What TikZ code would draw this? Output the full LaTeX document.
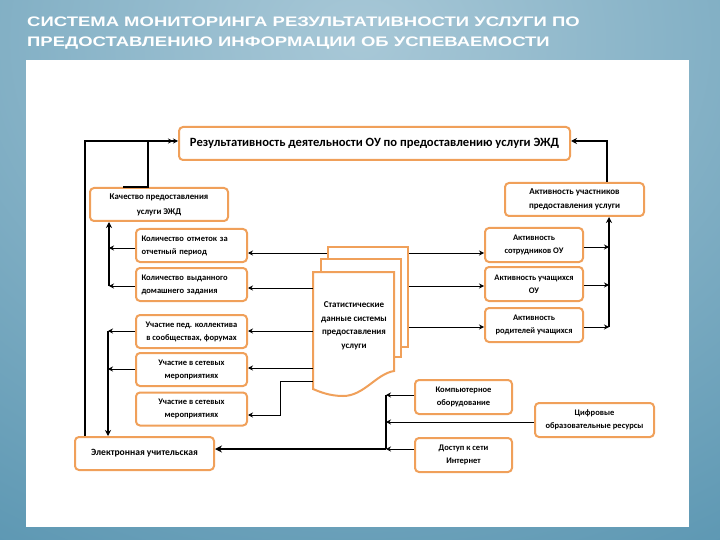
\documentclass[tikz,border=0pt]{standalone}
\usepackage{fontspec}
\setmainfont{Carlito}
\newfontfamily\titlefont{Liberation Sans}
\usetikzlibrary{arrows.meta}
\definecolor{bgA}{HTML}{A8C8D7}
\definecolor{bgB}{HTML}{5995B1}
\definecolor{orng}{HTML}{F0A05A}
\tikzset{
  box/.style={draw=orng, line width=2pt, rounded corners=4pt, fill=white, inner sep=2pt,
    font=\fontsize{8.5}{13}\selectfont\bfseries, align=center},
  page/.style={draw=orng, line width=2pt, fill=white, inner sep=0pt},
  arr/.style={line width=1pt, -{Stealth[length=5pt,width=5pt]}},
  bus/.style={line width=2pt},
  busarr/.style={line width=2pt, -{Stealth[length=6pt,width=6pt]}},
}
\begin{document}
\begin{tikzpicture}[x=1pt,y=-1pt]
\useasboundingbox (0,0) rectangle (720,540);
\fill[bgB] (0,0) rectangle (720,540);
\begin{scope}
\clip (0,0) rectangle (720,540);
\shade[inner color=bgA, outer color=bgB] (360,40) ellipse [x radius=760pt, y radius=620pt];
\end{scope}
\fill[white] (26,60) rectangle (689,527);
\node[anchor=west, text=white, font=\titlefont\bfseries\fontsize{13.8}{20}\selectfont, align=left, inner sep=0pt] (title) at (27,33.5)
  {\scalebox{1.34}[1]{СИСТЕМА МОНИТОРИНГА РЕЗУЛЬТАТИВНОСТИ УСЛУГИ ПО}\\\scalebox{1.34}[1]{ПРЕДОСТАВЛЕНИЮ ИНФОРМАЦИИ ОБ УСПЕВАЕМОСТИ}};

% main boxes
\node[box, minimum width=391pt, minimum height=33pt, font=\fontsize{12.6}{14}\selectfont\bfseries] (top) at (374.5,143.5)
  {Результативность деятельности ОУ по предоставлению услуги ЭЖД};
\node[box, minimum width=138pt, minimum height=33pt, font=\fontsize{8.8}{15}\selectfont\bfseries] (kach) at (159,204.5)
  {Качество предоставления\\услуги ЭЖД};
\node[box, minimum width=139pt, minimum height=33pt, font=\fontsize{9}{14}\selectfont\bfseries] (aktu) at (574.5,199.5)
  {Активность участников\\предоставления услуги};

% left column
\node[box, minimum width=111pt, minimum height=33pt, text width=100pt, align=left] (l1) at (191.5,245.5)
  {Количество отметок за\\отчетный период};
\node[box, minimum width=111pt, minimum height=33pt, text width=100pt, align=left] (l2) at (191.5,284.5)
  {Количество выданного\\домашнего задания};
\node[box, minimum width=111pt, minimum height=33pt] (l3) at (191.5,331.5)
  {Участие пед. коллектива\\в сообществах, форумах};
\node[box, minimum width=111pt, minimum height=33pt] (l4) at (191.5,369.5)
  {Участие в сетевых\\мероприятиях};
\node[box, minimum width=111pt, minimum height=33pt] (l5) at (191.5,409)
  {Участие в сетевых\\мероприятиях};
\node[box, minimum width=139pt, minimum height=33pt, font=\fontsize{9.6}{14}\selectfont\bfseries] (el) at (144.5,453.5)
  {Электронная учительская};

% right column
\node[box, minimum width=98pt, minimum height=34pt] (r1) at (534,245)
  {Активность\\сотрудников ОУ};
\node[box, minimum width=98pt, minimum height=34pt] (r2) at (534,284)
  {Активность учащихся\\ОУ};
\node[box, minimum width=98pt, minimum height=34pt] (r3) at (534,325)
  {Активность\\родителей учащихся};

% resources
\node[box, minimum width=97pt, minimum height=34pt] (comp) at (463.5,397)
  {Компьютерное\\оборудование};
\node[box, minimum width=119pt, minimum height=34pt] (cif) at (594.5,420)
  {Цифровые\\образовательные ресурсы};
\node[box, minimum width=97pt, minimum height=34pt] (inet) at (463.5,455)
  {Доступ к сети\\Интернет};

% document stack
\node[page, minimum width=80pt, minimum height=100pt] (back) at (368,297) {};
\node[page, minimum width=80pt, minimum height=98pt] (mid) at (361,308) {};
\draw[draw=orng, line width=2pt, fill=white] (313,272) -- (394,272) -- (394,371)
  .. controls (376,374) and (364,396) .. (343,396)
  .. controls (330,396) and (320,392) .. (313,389) -- cycle;
\node[inner sep=0pt, minimum width=81pt, minimum height=118pt] (front) at (353.5,331) {};
\node[font=\fontsize{9}{13.5}\selectfont\bfseries, align=center] (ftext) at (354,326)
  {Статистические\\данные системы\\предоставления\\услуги};

% stack -> left boxes
\draw[arr] (back.west |- 0,253) -- (l1.east |- 0,253);
\draw[arr] (front.west |- 0,288) -- (l2.east |- 0,288);
\draw[arr] (front.west |- 0,331) -- (l3.east |- 0,331);
\draw[arr] (front.west |- 0,368) -- (l4.east |- 0,368);
\draw[arr] (front.west |- 0,381) -- (280,381) -- (280,415) -- (l5.east |- 0,415);

% left boxes -> buses
\draw[arr] (l1.west |- 0,248) -- (109,248);
\draw[arr] (l2.west |- 0,286) -- (109,286);
\draw[busarr] (109,286) -- (kach.south -| 109,0);
\draw[arr] (l3.west |- 0,331) -- (108,331);
\draw[arr] (l4.west |- 0,369) -- (108,369);
\draw[busarr] (108,331) -- (el.north -| 108,0);

% outer left loop
\draw[line width=1.2pt, -{Stealth[length=5pt,width=5pt]Stealth[length=5pt,width=5pt]}] (el.north -| 85,0) -- (85,141) -- (top.west |- 0,141);
\draw[bus] (kach.north -| 123,0) -- (kach.north -| 148,0) -- (148,141);

% stack -> right boxes
\draw[arr] (back.east |- 0,253) -- (r1.west |- 0,253);
\draw[arr] (back.east |- 0,286) -- (r2.west |- 0,286);
\draw[arr] (back.east |- 0,327) -- (r3.west |- 0,327);

% right boxes -> bus
\draw[arr] (r1.east |- 0,247) -- (609,247);
\draw[arr] (r2.east |- 0,285) -- (609,285);
\draw[arr] (r3.east |- 0,327) -- (609,327);
\draw[busarr] (609,327) -- (aktu.south -| 609,0);
\draw[busarr] (aktu.north -| 607,0) -- (607,141) -- (top.east |- 0,141);

% resources -> bus -> el
\draw[arr] (comp.west |- 0,395) -- (386,395);
\draw[arr] (cif.west |- 0,422) -- (386,422);
\draw[arr] (inet.west |- 0,449) -- (386,449);
\draw[bus] (386,395) -- (386,449);
\draw[line width=2.2pt, -{Stealth[length=7pt,width=7pt]}] (386,449) -- (el.east |- 0,449);
\end{tikzpicture}
\end{document}
